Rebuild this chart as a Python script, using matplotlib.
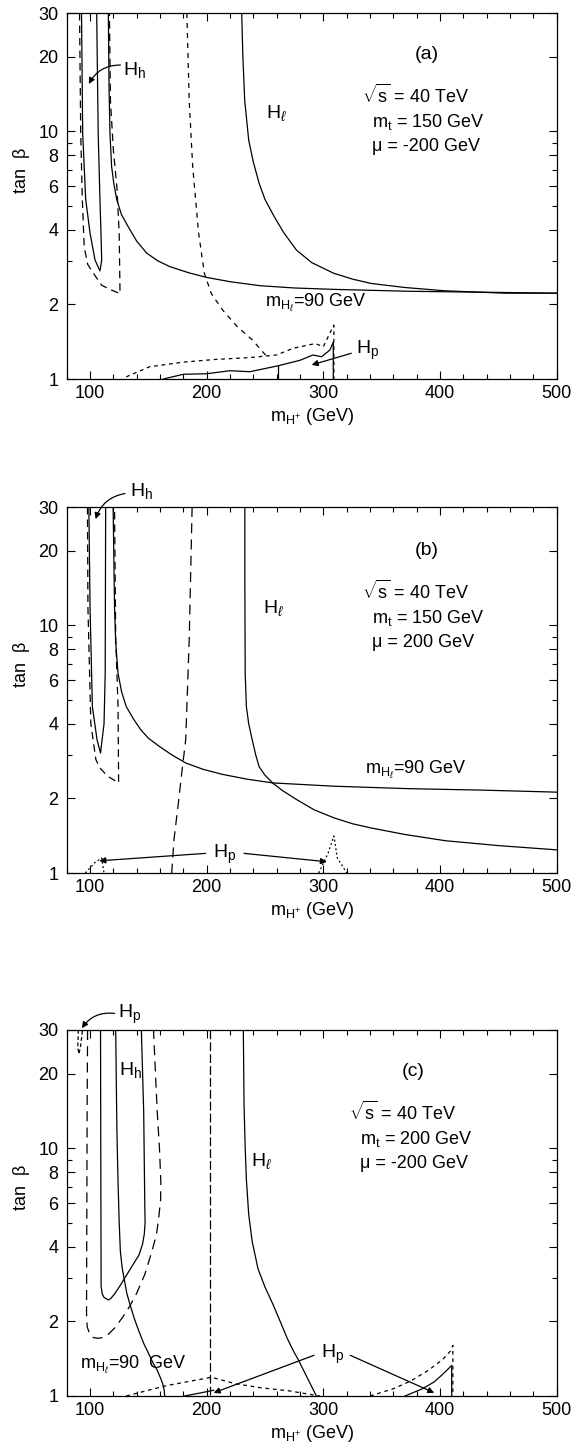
import numpy as np
import matplotlib
matplotlib.use('Agg')
from matplotlib import pyplot as plt
from matplotlib.ticker import FixedLocator, FixedFormatter, NullFormatter, MultipleLocator

plt.rcParams['font.family'] = ['Liberation Sans', 'DejaVu Sans']
plt.rcParams['mathtext.fontset'] = 'custom'
plt.rcParams['mathtext.rm'] = 'Liberation Sans'
plt.rcParams['mathtext.it'] = 'Liberation Sans:italic'

# ---- panel (a): mt=150, mu=-200
a_hh_x = [92.7, 93.7, 96.3, 100, 104.3, 108.5, 110, 109.3, 108.5, 107, 105.7]
a_hh_y = [30, 9.8, 5.3, 3.88, 3.02, 2.73, 3.02, 4.0, 5.3, 9.8, 30]
a_hhd_x = [91, 92, 93.4, 95, 98, 102.9, 110, 117, 125.7, 125, 123, 120, 117.5, 116.6]
a_hhd_y = [30, 9.9, 5.3, 3.42, 2.9, 2.67, 2.39, 2.30, 2.21, 3.87, 5.96, 8.4, 13.3, 30]
a_mhl_x = [115.7, 116.3, 117.1, 118.5, 120.5, 122.9, 127, 132.8, 140, 148.6, 158, 168.5, 185, 200,
           220, 245.7, 275, 309, 372.6, 436, 500]
a_mhl_y = [30, 15, 9.8, 7.2, 6.1, 5.3, 4.6, 4.11, 3.6, 3.22, 3.0, 2.84, 2.68, 2.57,
           2.47, 2.38, 2.33, 2.30, 2.26, 2.24, 2.22]
a_hl_x = [230, 231, 232.6, 236, 240, 245, 250, 258, 266, 277, 290, 309, 325, 341, 370, 404, 455.5, 500]
a_hl_y = [30, 20, 13.3, 9.2, 7.5, 6.15, 5.3, 4.51, 3.9, 3.31, 2.95, 2.67, 2.53, 2.43, 2.34, 2.27, 2.22, 2.22]
a_fd_x = [183, 185, 188, 193, 198, 204, 213.6, 226, 239, 253]
a_fd_y = [30, 13.3, 7.2, 3.9, 2.67, 2.21, 1.9, 1.63, 1.44, 1.21]
a_lowd_x = [131, 151, 180, 208, 237, 260, 274, 293, 300, 307.5, 309, 309]
a_lowd_y = [1.02, 1.12, 1.17, 1.2, 1.22, 1.25, 1.33, 1.39, 1.35, 1.6, 1.65, 1.0]
a_lows_x = [162.8, 180, 200, 220, 237, 261, 280, 291, 298.5, 305.7, 308.5, 308.5]
a_lows_y = [1.0, 1.045, 1.05, 1.08, 1.07, 1.13, 1.19, 1.25, 1.23, 1.31, 1.41, 1.0]
a_vert_x = [261, 261]
a_vert_y = [1.0, 1.13]

# ---- panel (b): mt=150, mu=200
b_hh_x = [99, 100, 102, 106, 109, 112, 113, 113.4]
b_hh_y = [30, 11.8, 4.7, 3.45, 3.05, 4.0, 6.4, 30]
b_hhd_x = [97.8, 98.2, 100.7, 105, 108.6, 115, 124.5, 124, 122, 121]
b_hhd_y = [30, 11.8, 4.0, 2.87, 2.65, 2.46, 2.31, 4.7, 8.9, 30]
b_mhl_x = [119.8, 121, 122, 124, 127, 131, 137, 143.6, 150, 159.5, 170, 182, 197, 213.6,
           235, 256.5, 309, 372.6, 436, 500]
b_mhl_y = [30, 11.8, 8.5, 6.4, 5.4, 4.7, 4.2, 3.78, 3.5, 3.24, 3.0, 2.78, 2.62, 2.5,
           2.39, 2.31, 2.24, 2.19, 2.16, 2.12]
b_hl_x = [232.7, 232.7, 233, 234, 236, 239, 242, 245, 250, 256.5, 265, 277, 292, 309,
          325, 340.8, 370, 404.5, 450, 500]
b_hl_y = [30, 15, 6.4, 4.7, 4.0, 3.45, 3.0, 2.68, 2.48, 2.31, 2.15, 1.98, 1.8, 1.67,
          1.58, 1.52, 1.43, 1.35, 1.29, 1.24]
b_ld_x = [187.5, 185, 182, 178.6, 175.4, 172, 170]
b_ld_y = [30, 8.7, 3.45, 2.53, 1.86, 1.37, 1.0]
b_dotl_x = [96, 104, 110, 112]
b_dotl_y = [1.0, 1.1, 1.15, 1.0]
b_dotr_x = [296, 304, 309, 312, 320]
b_dotr_y = [1.0, 1.2, 1.41, 1.15, 1.0]

# ---- panel (c): mt=200, mu=-200
c_curl_x = [90, 89.5, 90.5, 92, 93.5]
c_curl_y = [30, 25.5, 24, 26, 30]
c_ld_x = [97.9, 97.5, 97, 97.6, 99.5, 103, 107, 111, 115, 121, 127.7, 134, 140, 147, 153,
          157, 159, 160.5, 160.7, 159.5, 157.6, 154.4]
c_ld_y = [30, 14, 2.14, 1.9, 1.79, 1.72, 1.71, 1.72, 1.76, 1.88, 2.07, 2.3, 2.6, 3.1, 3.83,
          4.5, 5.3, 6.2, 7.3, 10, 14, 30]
c_hh_x = [109, 109.2, 109.5, 110.5, 112, 115.8, 118, 121.5, 126, 131, 137, 142, 145, 146.5,
          147.2, 147, 146.6, 146, 144]
c_hh_y = [30, 10, 2.77, 2.58, 2.5, 2.44, 2.48, 2.6, 2.8, 3.06, 3.4, 3.71, 4.1, 4.5,
          5.0, 5.66, 8, 14, 30]
c_mhl_x = [122, 123, 124, 125, 126, 127.5, 129.3, 131.5, 134, 138, 142, 146, 149.7, 154,
           157.6, 160.5, 162.3, 163.5, 164]
c_mhl_y = [30, 12, 7.3, 5, 3.83, 3.3, 2.96, 2.6, 2.36, 2.05, 1.82, 1.63, 1.5, 1.36,
           1.27, 1.18, 1.12, 1.06, 1.0]
c_vd_x = [203, 203]
c_vd_y = [30, 1.0]
c_hl_x = [231.4, 232, 233, 234, 236, 239, 244, 250, 256.5, 263, 269, 274, 278.5, 286, 294]
c_hl_y = [30, 15, 10, 7.5, 5.4, 4.2, 3.26, 2.75, 2.36, 2.0, 1.71, 1.53, 1.4, 1.19, 1.0]
c_lowd_x = [131, 165, 204, 225, 246, 270, 297]
c_lowd_y = [1.0, 1.1, 1.19, 1.12, 1.08, 1.05, 1.0]
c_lows_x = [181, 195, 206]
c_lows_y = [1.0, 1.03, 1.055]
c_rd_x = [340, 360, 375, 390, 402, 409, 411, 411]
c_rd_y = [1.0, 1.07, 1.15, 1.27, 1.4, 1.52, 1.6, 1.0]
c_rs_x = [370, 385, 395, 402, 408, 410, 410]
c_rs_y = [1.0, 1.07, 1.14, 1.22, 1.3, 1.33, 1.0]

x_ticks = [100, 200, 300, 400, 500]
y_ticks = [1, 2, 4, 6, 8, 10, 20, 30]
y_minor = [3, 5, 7, 9]

LW = 0.9
long_dash = (0, (6, 4))
fine_dash = (0, (4, 4))
short_dash = (0, (3, 3))
dotted = (0, (1.5, 2))
FS = 13

W, H = 582, 1449
fig = plt.figure(figsize=(W / 100, H / 100), dpi=100)


def make_ax(top_px, bot_px):
    ax = fig.add_axes([66.7 / W, 1 - bot_px / H, 490 / W, (bot_px - top_px) / H])
    ax.set_yscale('log')
    ax.set_xlim(80, 500)
    ax.set_ylim(1, 30)
    ax.xaxis.set_major_locator(FixedLocator(x_ticks))
    ax.xaxis.set_minor_locator(MultipleLocator(20))
    ax.yaxis.set_major_locator(FixedLocator(y_ticks))
    ax.yaxis.set_major_formatter(FixedFormatter([str(v) for v in y_ticks]))
    ax.yaxis.set_minor_locator(FixedLocator(y_minor))
    ax.yaxis.set_minor_formatter(NullFormatter())
    ax.tick_params(which='both', direction='in', top=True, right=True, width=0.8, labelsize=FS)
    ax.tick_params(which='major', length=6)
    ax.tick_params(which='minor', length=3.5)
    ax.tick_params(axis='y', pad=6)
    ax.tick_params(axis='x', pad=4)
    for s in ax.spines.values():
        s.set_linewidth(0.9)
    ax.set_xlabel(r'm$_{\mathrm{H}^{+}}$ (GeV)', fontsize=FS, labelpad=3)
    ax.set_ylabel('tan  β', fontsize=FS)
    ax.yaxis.set_label_coords(-0.075, 0.57)
    return ax


def line(ax, x, y, ls='-', lw=LW):
    ax.plot(x, y, color='k', lw=lw, ls=ls, solid_joinstyle='round')


def arrow(ax, start, tip, rad=0.0):
    ax.annotate('', xy=tip, xytext=start, annotation_clip=False,
                arrowprops=dict(arrowstyle='-|>', color='k', lw=0.9,
                                mutation_scale=9, shrinkA=0, shrinkB=0,
                                connectionstyle=f'arc3,rad={rad}'))


def params(ax, x, y, label, mt, mu):
    ax.text(x + 45, y * 1.5, label, fontsize=FS + 1)
    ax.text(x, y, r'$\sqrt{\mathrm{s}}$ = 40 TeV', fontsize=FS)
    ax.text(x + 9, y / 1.25, r'm$_\mathrm{t}$ = ' + mt, fontsize=FS)
    ax.text(x + 9, y / 1.25 ** 2, 'μ = ' + mu, fontsize=FS)


# panel (a)
ax = make_ax(13, 379)
line(ax, a_hh_x, a_hh_y)
line(ax, a_hhd_x, a_hhd_y, long_dash)
line(ax, a_mhl_x, a_mhl_y)
line(ax, a_hl_x, a_hl_y)
line(ax, a_fd_x, a_fd_y, fine_dash)
line(ax, a_lowd_x, a_lowd_y, short_dash)
line(ax, a_lows_x, a_lows_y)
line(ax, a_vert_x, a_vert_y)
ax.text(128, 17.6, r'H$_\mathrm{h}$', fontsize=FS + 1, va='center')
arrow(ax, (126, 18.5), (99, 15.5), rad=0.3)
ax.text(251, 11.8, r'H$_\ell$', fontsize=FS + 1, va='center')
ax.text(250, 2.02, r'm$_{\mathrm{H}_\ell}$=90 GeV', fontsize=FS, va='center')
ax.text(328, 1.31, r'H$_\mathrm{p}$', fontsize=FS + 1, va='center')
arrow(ax, (324, 1.27), (290, 1.14))
params(ax, 333, 13.0, '(a)', '150 GeV', '-200 GeV')

# panel (b)
ax = make_ax(507, 873)
line(ax, b_hh_x, b_hh_y)
line(ax, b_hhd_x, b_hhd_y, long_dash)
line(ax, b_mhl_x, b_mhl_y)
line(ax, b_hl_x, b_hl_y)
line(ax, b_ld_x, b_ld_y, (0, (8, 5)))
line(ax, b_dotl_x, b_dotl_y, dotted)
line(ax, b_dotr_x, b_dotr_y, dotted)
ax.text(134, 34.8, r'H$_\mathrm{h}$', fontsize=FS + 1, va='center')
arrow(ax, (130, 34), (104.8, 26.8), rad=0.3)
ax.text(248, 11.7, r'H$_\ell$', fontsize=FS + 1, va='center')
ax.text(336, 2.61, r'm$_{\mathrm{H}_\ell}$=90 GeV', fontsize=FS, va='center')
ax.text(205, 1.19, r'H$_\mathrm{p}$', fontsize=FS + 1, va='center')
arrow(ax, (199, 1.2), (108, 1.12))
arrow(ax, (232, 1.2), (303, 1.11))
params(ax, 333, 12.8, '(b)', '150 GeV', '200 GeV')

# panel (c)
ax = make_ax(1030, 1396)
line(ax, c_curl_x, c_curl_y, (0, (3, 2)))
line(ax, c_ld_x, c_ld_y, (0, (8, 5)))
line(ax, c_hh_x, c_hh_y)
line(ax, c_mhl_x, c_mhl_y)
line(ax, c_vd_x, c_vd_y, (0, (7, 2.5)))
line(ax, c_hl_x, c_hl_y)
line(ax, c_lowd_x, c_lowd_y, short_dash)
line(ax, c_lows_x, c_lows_y)
line(ax, c_rd_x, c_rd_y, short_dash)
line(ax, c_rs_x, c_rs_y)
ax.text(124, 34.7, r'H$_\mathrm{p}$', fontsize=FS + 1, va='center')
arrow(ax, (121, 35), (93, 30.5), rad=0.3)
ax.text(125, 20.7, r'H$_\mathrm{h}$', fontsize=FS + 1, va='center')
ax.text(238, 8.9, r'H$_\ell$', fontsize=FS + 1, va='center')
ax.text(91, 1.34, r'm$_{\mathrm{H}_\ell}$=90  GeV', fontsize=FS, va='center')
ax.text(298, 1.47, r'H$_\mathrm{p}$', fontsize=FS + 1, va='center')
arrow(ax, (292, 1.46), (206, 1.03))
arrow(ax, (323, 1.46), (395, 1.03))
params(ax, 322, 13.0, '(c)', '200 GeV', '-200 GeV')

fig.savefig('out.png', dpi=100)
